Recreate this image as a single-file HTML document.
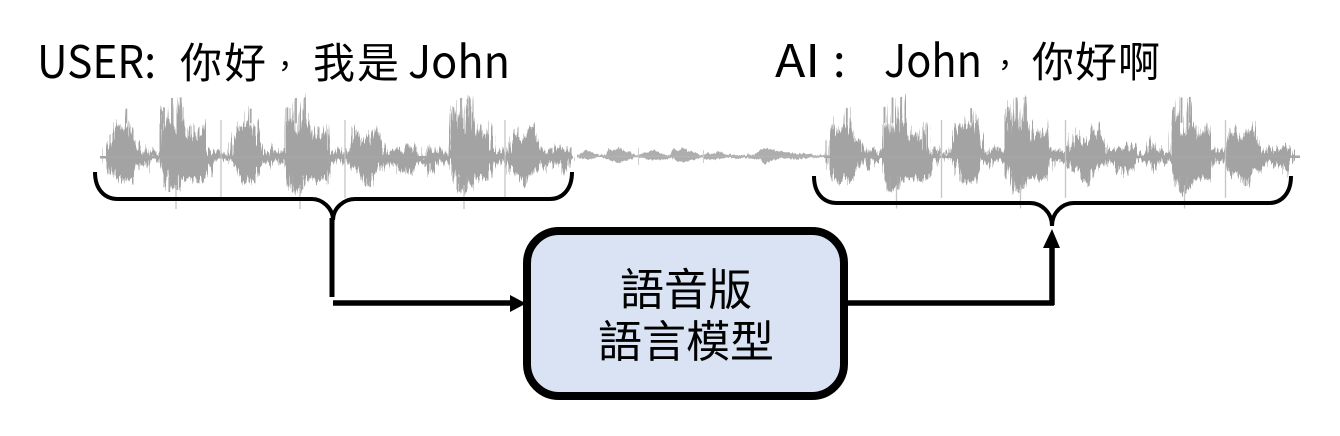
<!DOCTYPE html>
<html><head><meta charset="utf-8">
<style>
html,body{margin:0;padding:0;background:#fff;width:1340px;height:436px;overflow:hidden}
svg{display:block}
text{fill:#000;font-family:"Liberation Sans","Noto Sans CJK TC",sans-serif}
.c{font-family:"Noto Sans CJK TC","Liberation Sans",sans-serif;font-size:42px}
.m{font-family:"Noto Sans CJK TC","Liberation Sans",sans-serif;font-size:30px}
.l{font-family:"Noto Sans CJK TC","Liberation Sans",sans-serif;font-size:45px}
.b{font-family:"Noto Sans CJK TC",sans-serif;font-size:44px;text-anchor:middle}
</style></head><body>
<svg width="1340" height="436" viewBox="0 0 1340 436" xmlns="http://www.w3.org/2000/svg">
<defs>
<filter id="jag" filterUnits="userSpaceOnUse" x="0" y="80" width="1340" height="140" color-interpolation-filters="sRGB">
<feTurbulence type="fractalNoise" baseFrequency="0.55 0.004" numOctaves="2" seed="7" result="n"/>
<feDisplacementMap in="SourceGraphic" in2="n" scale="18" xChannelSelector="A" yChannelSelector="G"/>
<feGaussianBlur stdDeviation="0.35"/>
</filter>
<filter id="jag2" filterUnits="userSpaceOnUse" x="560" y="130" width="280" height="50" color-interpolation-filters="sRGB">
<feTurbulence type="fractalNoise" baseFrequency="0.6 0.004" numOctaves="2" seed="3" result="n"/>
<feDisplacementMap in="SourceGraphic" in2="n" scale="4" xChannelSelector="A" yChannelSelector="G"/>
<feGaussianBlur stdDeviation="0.35"/>
</filter>
<g id="w">
<path fill="#a3a3a3" stroke="#a3a3a3" stroke-width="1" d="M45,198 50,165 60,150 62,125 70,130 76,97 82,115 90,125 97,110 103,120 109,56 112,105 118,95 124,120 130,150 140,150 150,175 155,188 165,192 172,168 178,192 190,182 205,192 215,170 218,60 224,50 228,125 232,90 240,120 246,25 250,125 256,130 262,100 272,22 277,90 285,105 290,150 298,135 305,105 312,135 330,150 340,105 346,98 350,182 365,190 370,178 378,180 390,192 396,198 420,190 425,160 435,125 445,110 455,100 465,110 475,105 482,55 485,100 492,95 500,125 510,150 520,178 535,192 545,172 560,190 575,188 588,180 592,60 597,50 602,100 610,90 618,25 622,120 630,130 635,90 645,22 650,90 660,105 667,150 675,130 680,110 690,135 705,145 715,100 720,182 740,184 750,178 765,184 770,184 780,165 790,115 800,140 810,150 825,170 845,125 855,105 862,130 875,160 893,188 920,172 930,184 945,178 960,165 975,178 990,197 1010,192 1018,150 1028,188 1045,178 1060,188 1080,192 1087,60 1092,50 1098,90 1106,90 1113,25 1118,120 1125,130 1130,90 1138,22 1143,90 1152,110 1158,150 1165,110 1172,135 1185,145 1200,100 1205,180 1220,186 1232,180 1244,186 1248,186 1258,150 1268,115 1280,140 1295,150 1312,125 1330,105 1340,150 1360,184 1390,172 1400,182 1420,172 1440,184 1446,198
L1446,206 1435,222 1420,252 1410,222 1395,228 1370,216 1350,240 1325,250 1305,290 1290,255 1270,262 1250,220 1215,212 1205,240 1195,275 1180,268 1165,262 1150,270 1135,295 1125,305 1110,305 1098,275 1090,245 1080,212 1060,222 1045,212 1025,255 1018,222 990,207 975,222 955,255 935,232 925,255 905,222 890,212 870,235 850,245 835,285 815,270 800,235 785,240 770,218 750,210 725,215 712,282 700,265 685,270 665,262 650,265 640,295 630,305 610,305 595,270 590,225 560,212 545,235 535,212 515,218 500,250 490,270 470,280 455,270 440,235 420,208 396,207 375,212 365,235 345,275 325,270 305,265 285,270 270,265 262,300 250,290 238,305 225,265 215,212 195,208 175,238 160,212 145,220 130,255 115,275 100,265 85,282 70,260 55,240 45,208 Z"/>
</g>
<g id="s" fill="none" stroke="#a8a8a8" stroke-width="5.500">
<path d="M109,100V56M222,100V52M246,100V24M272,100V22M482,100V56M592,100V52M618,100V24M645,100V22M1090,100V52M1113,100V24M1138,100V22"/>
<path d="M238,260V306M262,260V300M608,260V305M637,260V298M1108,260V305M1130,260V298M1305,260V290M835,260V288"/>
</g>
</defs>

<!-- waveforms -->
<g filter="url(#jag)">
<use href="#w" transform="translate(90,90) scale(.33333)"/>
<use href="#w" transform="translate(810.500,89.500) scale(.33333)"/>
</g>
<use href="#s" transform="translate(90,90) scale(.33333)"/>
<use href="#s" transform="translate(810.500,89.500) scale(.33333)"/>
<path d="M100,157.300H573M824,156.800H1300" stroke="#a6a6a6" stroke-width="2.500" fill="none"/>
<g stroke="#c6c6c6" stroke-width="1.300" fill="none">
<path d="M176,185V209M221,120V198M300,185V209M345,120V198M464,185V209M505,120V198"/>
<path d="M896.500,185V208.500M941.500,120V198M1020.500,185V208.500M1065.500,120V198M1184.500,185V208.500M1225.500,120V198"/>
</g>

<!-- quiet middle waveform -->
<g filter="url(#jag2)">
<g transform="translate(570,105.500) scale(.33333)">
<path fill="#adadad" d="M22,150 32,142 50,135 70,142 90,150 108,148 115,128 130,136 145,124 160,138 180,140 200,150 225,143 250,134 275,143 300,150 310,130 325,136 340,124 355,138 375,140 395,150 410,140 425,146 450,138 470,148 500,147 530,150 535,144 545,150 570,136 580,126 600,130 630,140 655,140 680,146 705,143 730,148 765,150
L765,154 730,156 700,158 680,162 655,158 630,160 600,165 585,175 570,162 530,156 500,158 470,156 450,160 430,162 405,160 395,154 375,162 345,168 325,168 305,158 275,160 250,164 225,160 200,155 180,162 145,172 115,162 90,154 70,158 50,164 30,158 22,154 Z"/>
</g>
</g>
<path d="M578,156.500H826" stroke="#b4b4b4" stroke-width="1.300" fill="none"/>
<path d="M638.500,148V165M703.500,150V163" stroke="#cfcfcf" stroke-width="1" fill="none"/>

<!-- braces -->
<path d="M95,172C95,190 105,199 118,199H312C322,199 333,208 333,220C333,208 344,199 355,199H550C562,199 572,190 572,172" fill="none" stroke="#000" stroke-width="4"/>
<path d="M814,176C814,194 824,203 837,203H1030C1041,203 1052,212 1052,226C1052,212 1063,203 1074,203H1269C1281,203 1291,194 1291,176" fill="none" stroke="#000" stroke-width="4"/>

<!-- connectors -->
<path d="M332,218V297" fill="none" stroke="#000" stroke-width="5"/>
<path d="M333,303H512" fill="none" stroke="#000" stroke-width="5.500"/>
<path d="M510,295 526,303.500 510,312Z" fill="#000"/>
<path d="M847,303H1054M1052,305V246" fill="none" stroke="#000" stroke-width="5.500"/>
<path d="M1052,229 1060,248H1043Z" fill="#000"/>

<!-- box -->
<rect x="527" y="231" width="317" height="165" rx="32" ry="32" fill="#dae3f3" stroke="#000" stroke-width="8"/>
<text class="b" x="686" y="305">語音版</text>
<text class="b" x="686" y="357">語言模型</text>

<!-- labels -->
<text class="l" x="37" y="78" textLength="119" lengthAdjust="spacingAndGlyphs">USER:</text>
<text class="c" x="180" y="78" textLength="86">你好</text>
<text class="m" x="270" y="77">，</text>
<text class="c" x="313" y="78" textLength="86">我是</text>
<text class="l" x="408" y="78" textLength="102" lengthAdjust="spacingAndGlyphs">John</text>

<text class="l" x="775" y="77" textLength="45" lengthAdjust="spacingAndGlyphs">AI</text>
<text class="l" x="833" y="77">:</text>
<text class="l" x="884" y="77" textLength="98" lengthAdjust="spacingAndGlyphs">John</text>
<text class="m" x="990" y="76">，</text>
<text class="c" x="1032" y="77" textLength="128">你好啊</text>
</svg>
</body></html>
